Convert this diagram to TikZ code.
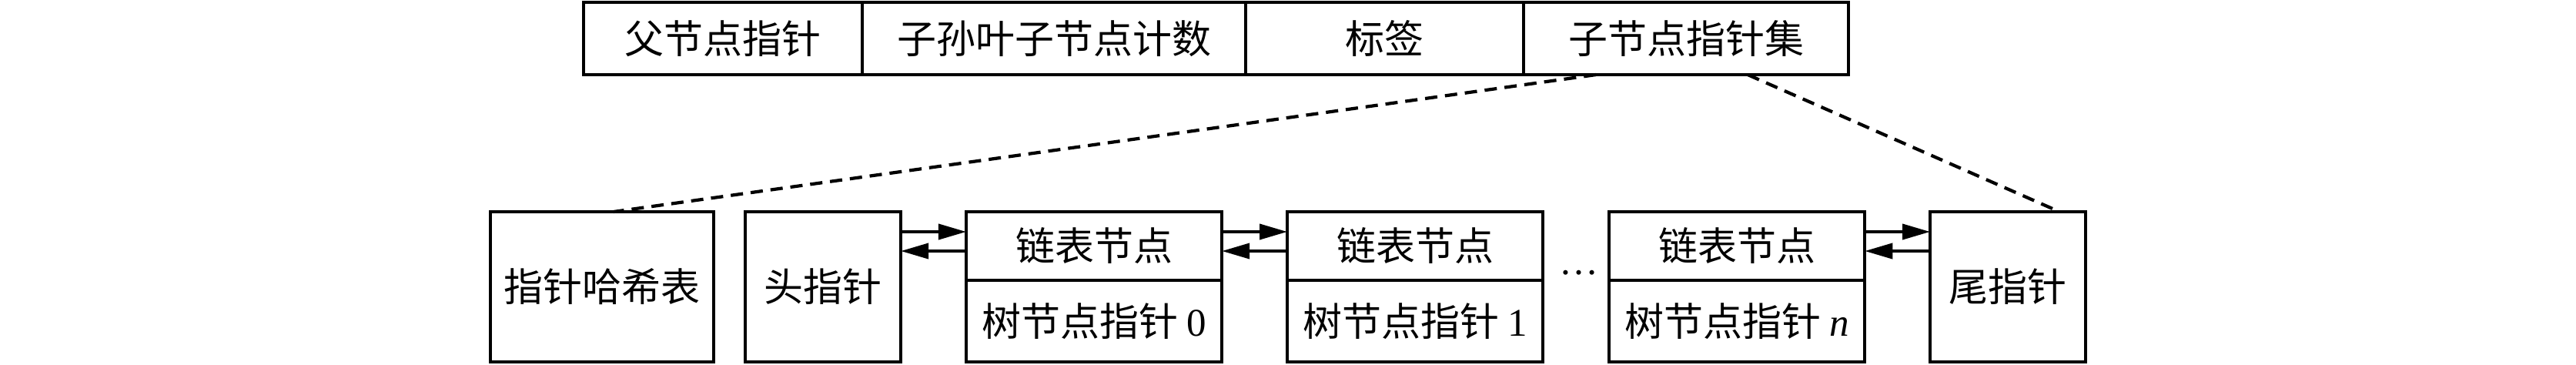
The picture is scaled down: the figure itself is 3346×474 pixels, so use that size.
\documentclass[tikz,border=0pt]{standalone}
\usepackage{fontspec}
\setmainfont{Noto Sans CJK SC}
\newfontfamily\tnr{Liberation Serif}
\usetikzlibrary{arrows.meta}
\begin{document}
\begin{tikzpicture}[x=0.01cm,y=-0.01cm,
  font=\fontsize{14.5pt}{17pt}\selectfont,
  cell/.style={draw, line width=1.2pt, inner sep=0pt, outer sep=0pt, anchor=north west},
  arr/.style={line width=1.1pt, -{Triangle[length=0.36cm,width=0.2cm]}},
  dashline/.style={line width=1.2pt, dash pattern=on 0.16cm off 0.1cm}]
\useasboundingbox (0,0) rectangle (3346,474);
% top record
\node[cell, minimum width=3.62cm, minimum height=0.94cm] (t1) at (758,3) {父节点指针};
\node[cell, minimum width=4.98cm, minimum height=0.94cm] (t2) at (1120,3) {子孙叶子节点计数};
\node[cell, minimum width=3.61cm, minimum height=0.94cm] (t3) at (1618,3) {标签};
\node[cell, minimum width=4.22cm, minimum height=0.94cm] (t4) at (1979,3) {子节点指针集};
% bottom row
\node[cell, minimum width=2.90cm, minimum height=1.95cm] (hash) at (637,275) {指针哈希表};
\node[cell, minimum width=2.02cm, minimum height=1.95cm] (head) at (968,275) {头指针};
\node[cell, minimum width=3.32cm, minimum height=0.89cm] (g0u) at (1255,275) {链表节点};
\node[cell, minimum width=3.32cm, minimum height=1.06cm] (g0l) at (1255,364) {树节点指针 {\tnr 0}};
\node[cell, minimum width=3.32cm, minimum height=0.89cm] (g1u) at (1672,275) {链表节点};
\node[cell, minimum width=3.32cm, minimum height=1.06cm] (g1l) at (1672,364) {树节点指针 {\tnr 1}};
\node[anchor=base, inner sep=0pt] (dots) at (2051,357) {\tnr …};
\node[cell, minimum width=3.32cm, minimum height=0.89cm] (gnu) at (2090,275) {链表节点};
\node[cell, minimum width=3.32cm, minimum height=1.06cm] (gnl) at (2090,364) {树节点指针 {\tnr\itshape n}};
\node[cell, minimum width=2.02cm, minimum height=1.95cm] (tail) at (2507,275) {尾指针};
% arrows
\draw[arr] ([yshift=-0.26cm]head.north east) -- ([yshift=-0.26cm]g0u.north west);
\draw[arr] ([yshift=-0.51cm]g0u.north west) -- ([yshift=-0.51cm]head.north east);
\draw[arr] ([yshift=-0.26cm]g0u.north east) -- ([yshift=-0.26cm]g1u.north west);
\draw[arr] ([yshift=-0.51cm]g1u.north west) -- ([yshift=-0.51cm]g0u.north east);
\draw[arr] ([yshift=-0.26cm]gnu.north east) -- ([yshift=-0.26cm]tail.north west);
\draw[arr] ([yshift=-0.51cm]tail.north west) -- ([yshift=-0.51cm]gnu.north east);
% dashed links
\draw[dashline] ([xshift=0.94cm]t4.south west) -- ([xshift=1.60cm]hash.north west);
\draw[dashline] ([xshift=2.91cm]t4.south west) -- ([xshift=1.68cm]tail.north west);
\end{tikzpicture}
\end{document}
